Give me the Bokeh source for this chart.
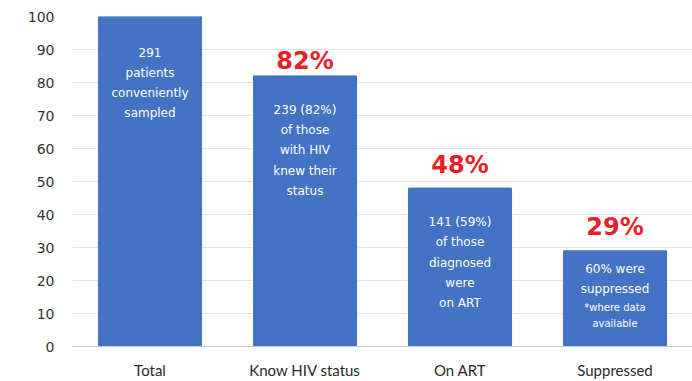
from bokeh.plotting import figure
from bokeh.models import ColumnDataSource, FactorRange, Range1d, FixedTicker
from bokeh.core.properties import value
from bokeh.embed import file_html
from bokeh.resources import INLINE

categories = ["Total", "Know HIV status", "On ART", "Suppressed"]
values = [100, 82, 48, 29]
pct_labels = ["", "82%", "48%", "29%"]
bar_texts = [
    "291\npatients\nconveniently\nsampled",
    "239 (82%)\nof those\nwith HIV\nknew their\nstatus",
    "141 (59%)\nof those\ndiagnosed\nwere\non ART",
    "60% were\nsuppressed",
]
note_text = ["*where data\navailable"]
y_ticks = list(range(0, 101, 10))

# styling offsets (pixels)
pct_offsets = [0, -1, -9, -10]
text_offsets = [29, 27, 27, 11]

src = ColumnDataSource(dict(cat=categories, val=values, pct=pct_labels,
                            txt=bar_texts, poff=pct_offsets, toff=text_offsets))

p = figure(width=692, height=381, x_range=FactorRange(*categories, range_padding=0),
           y_range=Range1d(0, 100), output_backend="svg", toolbar_location=None,
           min_border_left=72, min_border_right=0, min_border_top=16, min_border_bottom=30)
p.outline_line_color = None
p.background_fill_color = "white"
p.border_fill_color = "white"

p.vbar(x="cat", top="val", width=0.665, source=src, color="#4472C4")

p.text(x="cat", y="val", text="pct", source=src, y_offset="poff",
       text_align="center", text_baseline="bottom",
       text_font=value("DejaVu Sans"), text_font_style="bold",
       text_font_size="24px", text_color="#E8202A")

p.text(x="cat", y="val", text="txt", source=src, y_offset="toff",
       text_align="center", text_baseline="top", text_line_height=1.45,
       text_font=value("DejaVu Sans"), text_font_size="12px", text_color="white")

nsrc = ColumnDataSource(dict(cat=[categories[3]], val=[values[3]], txt=note_text))
p.text(x="cat", y="val", text="txt", source=nsrc, y_offset=51,
       text_align="center", text_baseline="top", text_line_height=1.45,
       text_font=value("DejaVu Sans"), text_font_size="10px", text_color="white")

p.xgrid.grid_line_color = None
p.ygrid.grid_line_color = "#E4E4E4"
p.ygrid.ticker = FixedTicker(ticks=y_ticks)

p.yaxis.ticker = FixedTicker(ticks=y_ticks)
p.yaxis.axis_line_color = None
p.yaxis.major_tick_line_color = None
p.yaxis.minor_tick_line_color = None
p.yaxis.major_label_standoff = 12
p.yaxis.major_label_text_font = "DejaVu Sans"
p.yaxis.major_label_text_font_size = "14px"
p.yaxis.major_label_text_color = "#333333"

p.xaxis.axis_line_color = "#C8C8C8"
p.xaxis.major_tick_line_color = None
p.xaxis.minor_tick_line_color = None
p.xaxis.major_label_standoff = 8
p.xaxis.major_label_text_font = "Lato"
p.xaxis.major_label_text_font_size = "15px"
p.xaxis.major_label_text_color = "#2A2A2A"

open("out.html", "w").write(file_html(p, INLINE))
